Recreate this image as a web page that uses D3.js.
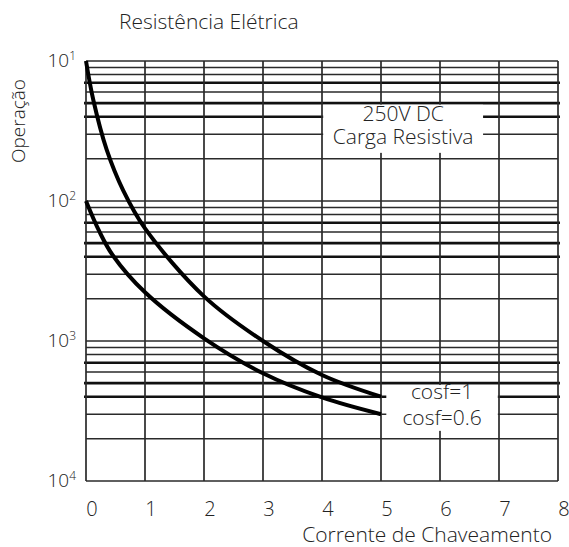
<!DOCTYPE html>
<html>
<head>
<meta charset="utf-8">
<script src="https://cdn.jsdelivr.net/npm/d3@7"></script>
<style>
  body { margin: 0; background: #fff; }
  text { font-family: "Open Sans", "Liberation Sans", sans-serif; font-weight: 300; fill: #222; }
</style>
</head>
<body>
<div id="chart"></div>
<script>
// chart values
var currentTicks = [0, 1, 2, 3, 4, 5, 6, 7, 8];
var decades = [10, 100, 1000, 10000];
var decadeExp = ["1", "2", "3", "4"];
var minorSteps = [2, 3, 4, 5, 6, 7, 8, 9];
var thickSteps = [4, 5, 7];

var currentCos1 = [0, 0.124, 0.35, 0.63, 1, 2, 3, 4, 5];
var opsCos1 = [10, 19, 43, 84, 157, 480, 1000, 1750, 2500];
var currentCos06 = [0, 0.226, 0.45, 1, 2, 3, 4, 5];
var opsCos06 = [100, 165, 243, 449, 957, 1700, 2530, 3333];

var width = 569, height = 547;
var margin = {top: 61, right: 11, bottom: 66, left: 86};

var svg = d3.select("#chart")
      .append("svg")
      .attr("width", width)
      .attr("height", height);

var x = d3.scaleLinear()
      .domain([0, 8])
      .range([margin.left, width - margin.right]);

var y = d3.scaleLog()
      .domain([10, 10000])
      .range([margin.top, height - margin.bottom]);

// horizontal grid: every decade line plus the (mirrored) minor lines
var hLines = [];
decades.forEach(function (d) { hLines.push({v: d, thick: false}); });
decades.slice(1).forEach(function (d) {
      minorSteps.forEach(function (k) {
            hLines.push({v: d / k, thick: thickSteps.indexOf(k) >= 0});
      });
});

var grid = svg.append("g");
grid.selectAll(".h")
      .data(hLines)
      .enter()
      .append("line")
      .attr("x1", function (d) { return x(0) - (d.thick ? 2 : 0); })
      .attr("x2", function (d) { return x(8) + (d.thick ? 2 : 0); })
      .attr("y1", function (d) { return y(d.v); })
      .attr("y2", function (d) { return y(d.v); })
      .attr("stroke", function (d) { return d.thick ? "#111" : "#2a2a2a"; })
      .attr("stroke-width", function (d) { return d.thick ? 2.6 : 1.5; });

grid.selectAll(".v")
      .data(currentTicks)
      .enter()
      .append("line")
      .attr("x1", function (d) { return x(d); })
      .attr("x2", function (d) { return x(d); })
      .attr("y1", y(10))
      .attr("y2", y(10000))
      .attr("stroke", "#2a2a2a")
      .attr("stroke-width", 1.7);

// curves
var line = d3.line()
      .x(function (d) { return x(d[0]); })
      .y(function (d) { return y(d[1]); })
      .curve(d3.curveCatmullRom.alpha(0.5));

[[currentCos1, opsCos1], [currentCos06, opsCos06]].forEach(function (s) {
      svg.append("path")
            .datum(d3.zip(s[0], s[1]))
            .attr("d", line)
            .attr("fill", "none")
            .attr("stroke", "#000")
            .attr("stroke-width", 4);
});

// annotation boxes
function box(x0, x1, y0, y1, lines, baselines) {
      svg.append("rect")
            .attr("x", x(x0))
            .attr("y", y0)
            .attr("width", x(x1) - x(x0))
            .attr("height", y1 - y0)
            .attr("fill", "#fff");
      var cx = (x(x0) + x(x1)) / 2;
      lines.forEach(function (t, i) {
            svg.append("text")
                  .attr("x", cx)
                  .attr("y", baselines[i])
                  .attr("text-anchor", "middle")
                  .style("font-size", "21px")
                  .text(t);
      });
}
box(4.02, 6.73, y(20) + 1.6, y(50) - 6, ["250V DC", "Carga Resistiva"], [121, 143.5]);
box(5.09, 6.98, y(2000) + 1.8, y(5000) - 8, ["cosf=1", "cosf=0.6"], [399, 425]);

// y tick labels
decades.forEach(function (d, i) {
      var t = svg.append("text")
            .attr("x", 76)
            .attr("y", y(d) + 6)
            .attr("text-anchor", "end")
            .style("font-size", "19px");
      t.append("tspan").text("10");
      t.append("tspan")
            .attr("dy", -7)
            .style("font-size", "12px")
            .text(decadeExp[i]);
});

// x tick labels
svg.selectAll(".xt")
      .data(currentTicks)
      .enter()
      .append("text")
      .attr("x", function (d) { return x(d) + 6; })
      .attr("y", 516)
      .attr("text-anchor", "middle")
      .style("font-size", "20px")
      .text(function (d) { return d; });

// titles
svg.append("text")
      .attr("x", 119)
      .attr("y", 29)
      .style("font-size", "21px")
      .text("Resistência Elétrica");

svg.append("text")
      .attr("x", 552)
      .attr("y", 542)
      .attr("text-anchor", "end")
      .style("font-size", "21px")
      .text("Corrente de Chaveamento");

svg.append("text")
      .attr("transform", "translate(25,121) rotate(-90)")
      .attr("text-anchor", "middle")
      .style("font-size", "19px")
      .text("Operação");
</script>
</body>
</html>
